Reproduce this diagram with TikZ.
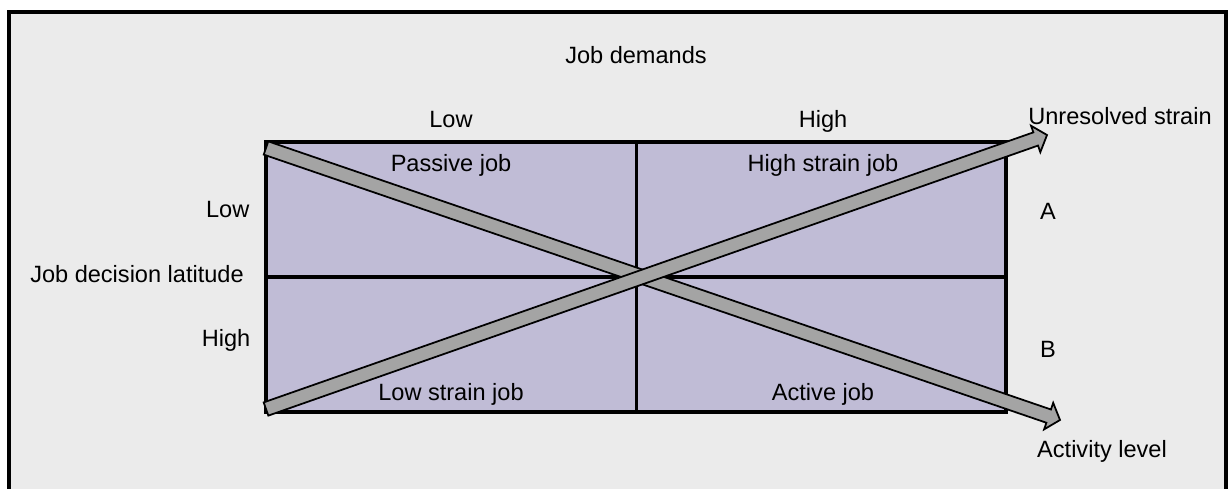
\documentclass[tikz,border=0pt]{standalone}
\usepackage{fontspec}
\setmainfont{Liberation Sans}
\usetikzlibrary{calc}
\definecolor{ccfond}{RGB}{235,235,235}
\definecolor{cclavande}{RGB}{192,188,214}
\definecolor{ccgris}{RGB}{164,164,164}

% grosse fleche : #1 = depart, #2 = pointe
\newcommand{\grossefleche}[2]{%
  \coordinate (#1h) at ($(#2)!0.12cm!(#1)$);
  \filldraw[fleche] ($(#1)!0.07cm!90:(#2)$) -- ($(#1h)!0.07cm!90:(#2)$)
    -- ($(#1h)!0.14cm!90:(#2)$) -- (#2) -- ($(#1h)!0.14cm!-90:(#2)$)
    -- ($(#1h)!0.07cm!-90:(#2)$) -- ($(#1)!0.07cm!-90:(#2)$) -- cycle ;}

\begin{document}
\begin{tikzpicture}[x=0.01cm, y=-0.01cm]

  % Styles
  \tikzstyle{fleche} = [line width=0.5pt, draw=black, fill=ccgris, line join=miter]
  \tikzstyle{grille} = [line width=0.033cm, black]
  \tikzstyle{texte} = [inner sep=0pt, anchor=base, font=\fontsize{6.7}{8}\selectfont]

  \useasboundingbox (0,0) rectangle (1228,488) ;

  % Fond et cadre
  \fill[white] (0,0) rectangle (1228,488) ;
  \fill[ccfond] (9,12) rectangle (1226,495) ;
  \draw[line width=0.04cm, black] (9,495) -- (9,12) -- (1226,12) -- (1226,495) ;

  % Grille
  \coordinate (hg) at (266,142) ;
  \coordinate (bd) at (1006,412) ;
  \fill[cclavande] (hg) rectangle (bd) ;
  \draw[grille] (hg) rectangle (bd) ;
  \draw[grille] (636.5,142) -- (636.5,412) ;
  \draw[grille] (266,277) -- (1006,277) ;

  % Fleches
  \coordinate (depA) at (266,148) ;
  \coordinate (finA) at (1060,420) ;
  \coordinate (depB) at (266,409) ;
  \coordinate (finB) at (1047,135) ;
  \grossefleche{depA}{finA}
  \grossefleche{depB}{finB}

  % Textes
  \node[texte] (demandes) at (636,64) {Job demands};
  \node[texte] (basdem) at (451,127) {Low};
  \node[texte] (hautdem) at (823,127) {High};
  \node[texte] (nonresolu) at (1120,125) {Unresolved strain};
  \node[texte] (passif) at (451,172) {Passive job};
  \node[texte] (tension) at (823,172) {High strain job};
  \node[texte, anchor=base east] (baslat) at (250,217) {Low};
  \node[texte] (latitude) at (137,282) {Job decision latitude};
  \node[texte, anchor=base east] (hautlat) at (251,346) {High};
  \node[texte] (A) at (1048,219) {A};
  \node[texte] (B) at (1048,357) {B};
  \node[texte] (faible) at (451,400) {Low strain job};
  \node[texte] (actif) at (823,400) {Active job};
  \node[texte] (activite) at (1102,457) {Activity level};

\end{tikzpicture}
\end{document}
